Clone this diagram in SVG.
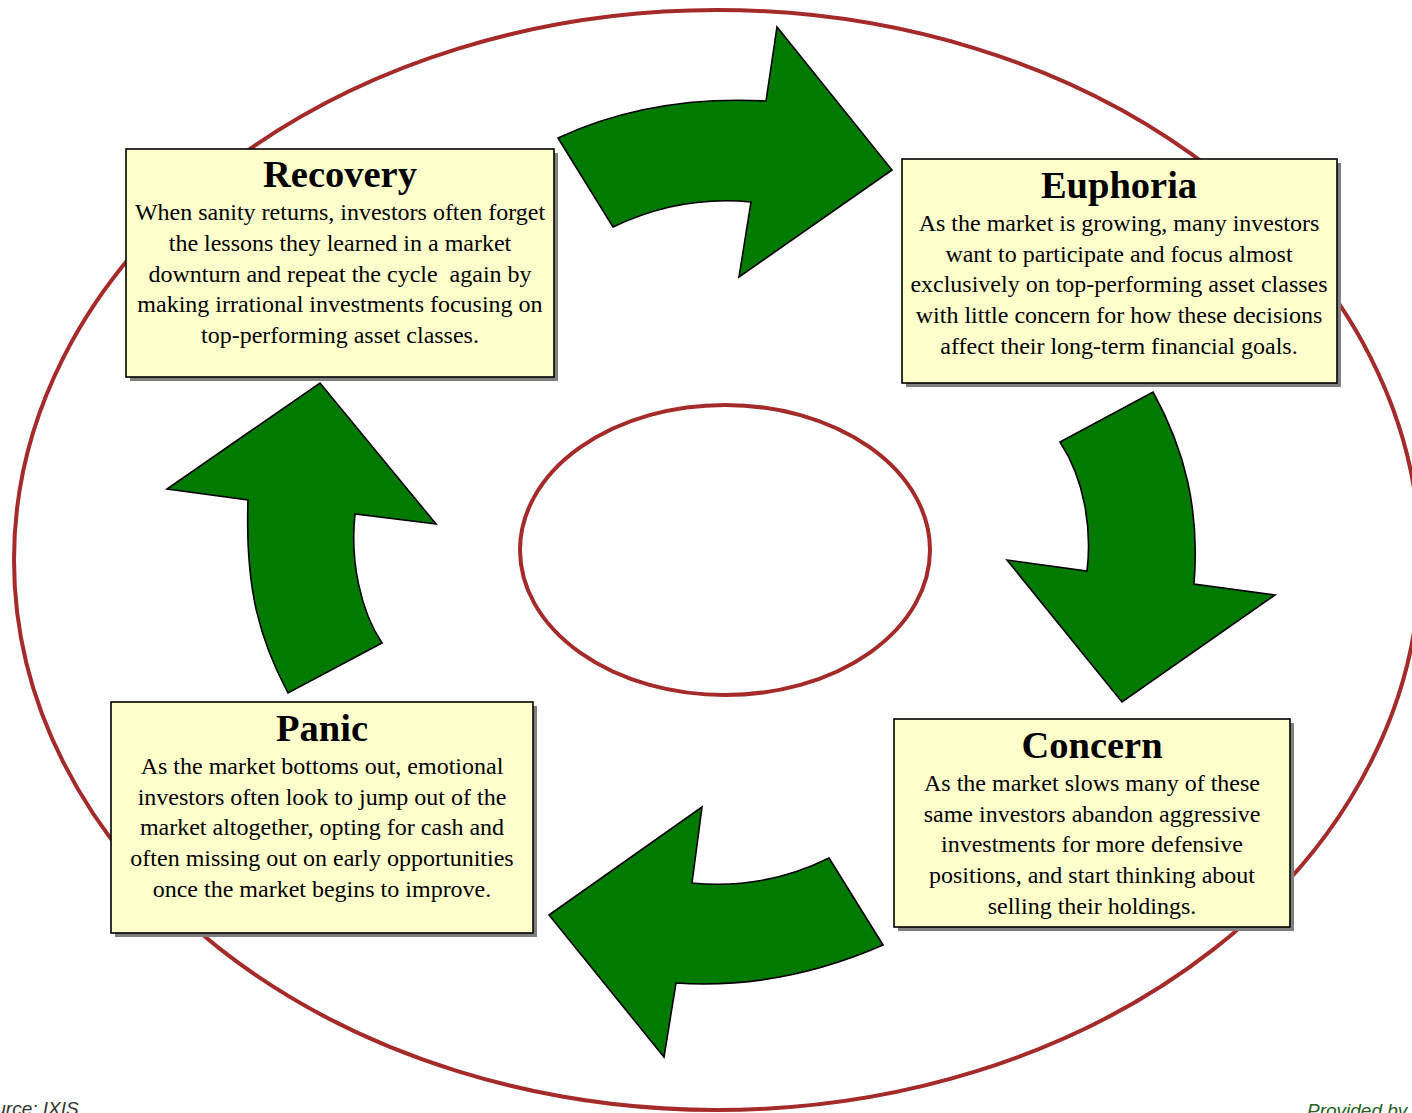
<svg xmlns="http://www.w3.org/2000/svg" width="1412" height="1113" viewBox="0 0 1412 1113">
<style>
.ring{fill:none;stroke:#a52a2a;stroke-width:4}
.arrow{fill:#007a00;stroke:#000;stroke-width:1.6;stroke-linejoin:miter}
.box{fill:#ffffcc;stroke:#000;stroke-width:1.6}
.shadow{fill:#808080}
.title{font-family:"Liberation Serif","Times New Roman",serif;font-weight:bold;font-size:38.5px;fill:#000;text-anchor:middle}
.body{font-family:"Liberation Serif","Times New Roman",serif;font-size:24px;fill:#000;text-anchor:middle}
.foot{font-family:"Liberation Sans",Arial,sans-serif;font-style:italic;font-size:19px}
</style>
<rect width="1412" height="1113" fill="#fff"/>
<g id="rings">
<ellipse class="ring" cx="717" cy="560" rx="703" ry="550"/>
<ellipse class="ring" cx="725" cy="550" rx="205" ry="145"/>
</g>
<g id="connectors">
<path class="arrow" d="M558,138 Q650,95 766,101 L777,27 L892,170 L739,277 L751,202 Q680,195 613,227 Z"/>
<path class="arrow" d="M1060,442 L1153,392 C1185,450 1200,510 1194,584 L1275,595 L1122,702 L1007,560 L1087,571 C1092,530 1085,480 1060,442 Z"/>
<path class="arrow" d="M829,858 L883,945 Q780,990 676,983 L664,1057 L549,915 L702,807 L692,883 Q765,890 829,858 Z"/>
<path class="arrow" d="M382,643 L288,693 C260,640 245,590 248,500 L167,489 L320,383 L436,524 L355,514 C350,560 360,610 382,643 Z"/>
</g>
<g id="recovery">
<rect class="shadow" x="130" y="153" width="428" height="228"/>
<rect class="box" x="126" y="149" width="428" height="228"/>
<text class="title" x="340" y="187">Recovery</text>
<text class="body" x="340" y="220">When sanity returns, investors often forget</text>
<text class="body" x="340" y="251">the lessons they learned in a market</text>
<text class="body" x="340" y="282" xml:space="preserve">downturn and repeat the cycle  again by</text>
<text class="body" x="340" y="312">making irrational investments focusing on</text>
<text class="body" x="340" y="343">top-performing asset classes.</text>
</g>
<g id="euphoria">
<rect class="shadow" x="906" y="163" width="435" height="224"/>
<rect class="box" x="902" y="159" width="435" height="224"/>
<text class="title" x="1119" y="198">Euphoria</text>
<text class="body" x="1119" y="231">As the market is growing, many investors</text>
<text class="body" x="1119" y="262">want to participate and focus almost</text>
<text class="body" x="1119" y="292">exclusively on top-performing asset classes</text>
<text class="body" x="1119" y="323">with little concern for how these decisions</text>
<text class="body" x="1119" y="354">affect their long-term financial goals.</text>
</g>
<g id="concern">
<rect class="shadow" x="898" y="723" width="396" height="208"/>
<rect class="box" x="894" y="719" width="396" height="208"/>
<text class="title" x="1092" y="758">Concern</text>
<text class="body" x="1092" y="791">As the market slows many of these</text>
<text class="body" x="1092" y="822">same investors abandon aggressive</text>
<text class="body" x="1092" y="852">investments for more defensive</text>
<text class="body" x="1092" y="883">positions, and start thinking about</text>
<text class="body" x="1092" y="914">selling their holdings.</text>
</g>
<g id="panic">
<rect class="shadow" x="115" y="706" width="422" height="231"/>
<rect class="box" x="111" y="702" width="422" height="231"/>
<text class="title" x="322" y="741">Panic</text>
<text class="body" x="322" y="774">As the market bottoms out, emotional</text>
<text class="body" x="322" y="805">investors often look to jump out of the</text>
<text class="body" x="322" y="835">market altogether, opting for cash and</text>
<text class="body" x="322" y="866">often missing out on early opportunities</text>
<text class="body" x="322" y="897">once the market begins to improve.</text>
</g>
<g id="footer">
<text class="foot" x="-28" y="1115" fill="#333">Source: IXIS</text>
<text class="foot" x="1307" y="1117" fill="#1f5f1f">Provided by</text>
</g>
</svg>
